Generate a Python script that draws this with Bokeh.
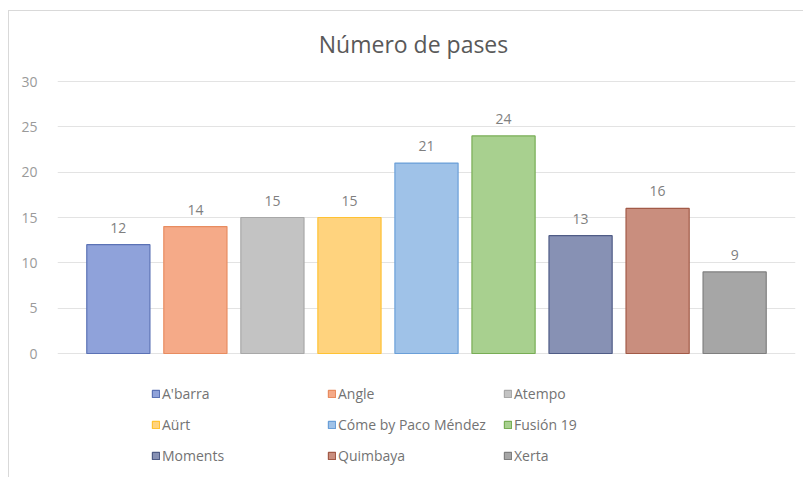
from bokeh.plotting import figure
from bokeh.models import ColumnDataSource, LabelSet, Label, Legend, LegendItem, FixedTicker, FactorRange, Range1d
from bokeh.core.properties import value
from bokeh.embed import file_html
from bokeh.resources import INLINE

names = ["A'barra", "Angle", "Atempo", "Aürt", "Cóme by Paco Méndez",
         "Fusión 19", "Moments", "Quimbaya", "Xerta"]
values = [12, 14, 15, 15, 21, 24, 13, 16, 9]
fills = ["#8fa2da", "#f5aa88", "#c3c3c3", "#ffd37e", "#9fc2e8",
         "#a8d08f", "#8791b4", "#c98e7e", "#a6a6a6"]
lines = ["#5b72b5", "#e88c60", "#a8a8a8", "#ffc233", "#6a9fd8",
         "#78ad55", "#4f5c86", "#a25a47", "#7f7f7f"]
yticks = [0, 5, 10, 15, 20, 25, 30]
title_text = "Número de pases"

FONT = "Open Sans"

# layout constants (pixels)
W, H = 795, 467
BOTTOM, LEFT, RIGHT = 4, 48, 9
PLOT_TOP_PX = 70       # gap between figure top and the "30" gridline
AXIS_PX = 272          # pixels spanned by 0..30
TITLE_ABOVE_PX = 38    # title centre above the "30" gridline
y_top = 30
ppu = AXIS_PX / y_top
y_end = y_top + PLOT_TOP_PX / ppu
frame_h = H - BOTTOM
y_start = y_end - frame_h / ppu

src = ColumnDataSource(dict(names=names, values=values, fills=fills, lines=lines,
                            labels=[str(v) for v in values]))

p = figure(width=W, height=H, output_backend="svg", toolbar_location=None,
           x_range=FactorRange(*names, range_padding=0.29, range_padding_units="absolute"),
           y_range=Range1d(y_start, y_end),
           min_border_left=LEFT, min_border_right=RIGHT, min_border_top=0,
           min_border_bottom=BOTTOM)
p.margin = (10, 0, 0, 8)

r = p.vbar(x="names", top="values", bottom=0, width=0.82, source=src,
           fill_color="fills", line_color="lines", line_width=1.2)

labels = LabelSet(x="names", y="values", text="labels", source=src,
                  y_offset=12, text_align="center", text_baseline="bottom",
                  text_font=value(FONT), text_font_size=value("14px"),
                  text_color=value("#7f7f7f"))
p.add_layout(labels)

title = Label(x=len(names) / 2, y=y_top + TITLE_ABOVE_PX / ppu, x_offset=-13,
              text=title_text, text_align="center", text_baseline="middle",
              text_font=FONT, text_font_size="23px", text_color="#595959")
p.add_layout(title)

p.xaxis.visible = False
p.yaxis.ticker = FixedTicker(ticks=yticks)
p.yaxis.axis_line_color = None
p.yaxis.major_tick_line_color = None
p.yaxis.minor_tick_line_color = None
p.yaxis.major_label_text_font = FONT
p.yaxis.major_label_text_font_size = "14px"
p.yaxis.major_label_text_color = "#9a9a9a"
p.yaxis.major_label_standoff = 14

p.xgrid.grid_line_color = None
p.ygrid.ticker = FixedTicker(ticks=yticks)
p.ygrid.grid_line_color = "#e3e3e3"
p.ygrid.grid_line_width = 1
p.outline_line_color = None

items = [LegendItem(label=n, renderers=[r], index=i) for i, n in enumerate(names)]
legend = Legend(items=items, orientation="horizontal", ncols=3, location=(94, 9),
                glyph_width=9, glyph_height=9, label_standoff=2,
                label_width=153, label_height=16, spacing=12,
                label_text_font=FONT, label_text_font_size="14px",
                label_text_color="#737373", border_line_color=None,
                background_fill_alpha=0, padding=0, margin=0)
p.add_layout(legend)

p.styles = {"border-left": "1px solid #d9d9d9", "border-top": "1px solid #d9d9d9"}

open("out.html", "w").write(file_html(p, INLINE))
